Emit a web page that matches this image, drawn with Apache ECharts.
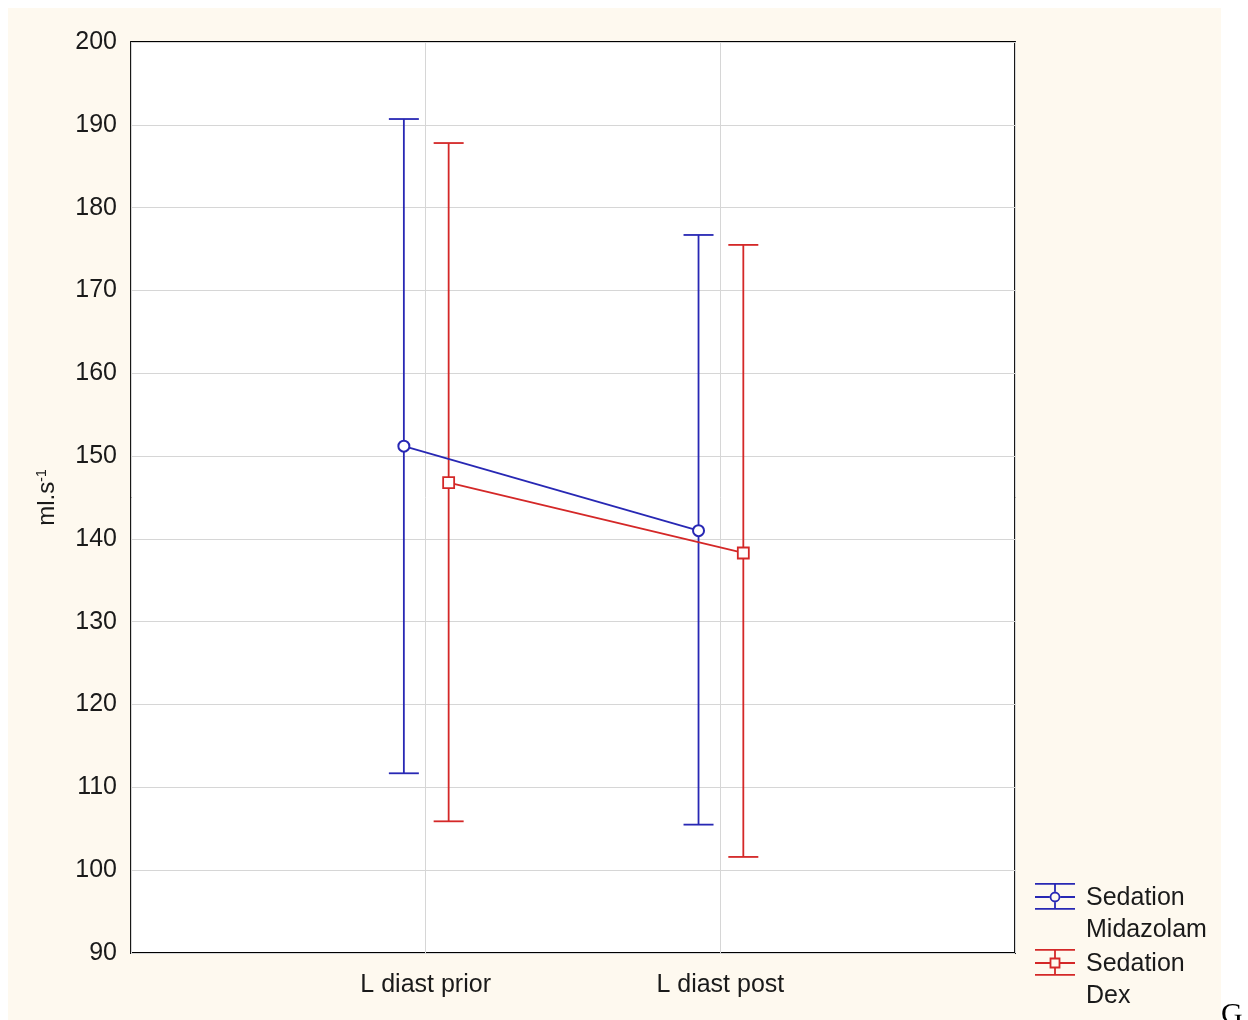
<!DOCTYPE html>
<html>
<head>
<meta charset="utf-8">
<script src="https://cdn.jsdelivr.net/npm/echarts@6/dist/echarts.min.js"></script>
<style>
html,body{margin:0;padding:0;background:#ffffff;}
#bg{position:absolute;left:8px;top:8px;width:1213px;height:1012px;background:#fef9ef;}
#chart{position:absolute;left:0;top:0;width:1248px;height:1020px;}
</style>
</head>
<body>
<div id="bg"></div>
<div id="chart"></div>
<script>
// ---- data ----
var categories = ['L diast prior', 'L diast post'];
var seriesNames = ['Sedation\nMidazolam', 'Sedation\nDex'];
var midMean = [151.2, 141.0];
var midLow  = [111.7, 105.5];
var midHigh = [190.7, 176.7];
var dexMean = [146.8, 138.3];
var dexLow  = [105.9, 101.6];
var dexHigh = [187.8, 175.5];
var yTicks = [90, 100, 110, 120, 130, 140, 150, 160, 170, 180, 190, 200];

// ---- style ----
var BLUE = '#2828b4';
var RED = '#d42828';
var TXT = '#1a1a1a';
var FONT = "'Liberation Sans', Arial, sans-serif";
var OFF_BLUE = -0.074, OFF_RED = 0.078;

function pts(mean, off) {
  return mean.map(function (v, i) { return [i + 1 + off, v]; });
}
function bars(low, high, off) {
  return low.map(function (v, i) { return [i + 1 + off, v, high[i]]; });
}
function errRender(color) {
  return function (params, api) {
    var x = api.value(0);
    var lo = api.coord([x, api.value(1)]);
    var hi = api.coord([x, api.value(2)]);
    var hw = 15;
    var st = { stroke: color, lineWidth: 1.8 };
    return {
      type: 'group',
      children: [
        { type: 'line', shape: { x1: lo[0], y1: lo[1], x2: hi[0], y2: hi[1] }, style: st },
        { type: 'line', shape: { x1: lo[0] - hw, y1: lo[1], x2: lo[0] + hw, y2: lo[1] }, style: st },
        { type: 'line', shape: { x1: hi[0] - hw, y1: hi[1], x2: hi[0] + hw, y2: hi[1] }, style: st }
      ]
    };
  };
}

// legend icon paths (40 x 64 box; glyph in upper part)
var frame = 'M0 0 L0.001 0 Z M40 64 L40.001 64 Z ';
var common = 'M0 1 L40 1 L40 2.8 L0 2.8 Z M0 26 L40 26 L40 27.8 L0 27.8 Z ' +
             'M19.1 2.8 L20.9 2.8 L20.9 9.6 L19.1 9.6 Z M19.1 20.4 L20.9 20.4 L20.9 26 L19.1 26 Z ' +
             'M0 14.1 L14.6 14.1 L14.6 15.9 L0 15.9 Z M25.4 14.1 L40 14.1 L40 15.9 L25.4 15.9 Z ';
var circleIcon = 'path://' + frame + common +
  'M14.6 15 A5.4 5.4 0 1 1 25.4 15 A5.4 5.4 0 1 1 14.6 15 Z M16.4 15 A3.6 3.6 0 1 0 23.6 15 A3.6 3.6 0 1 0 16.4 15 Z';
var squareIcon = 'path://' + frame + common +
  'M14.6 9.6 L25.4 9.6 L25.4 20.4 L14.6 20.4 Z M16.4 11.4 L16.4 18.6 L23.6 18.6 L23.6 11.4 Z';

var chart = echarts.init(document.getElementById('chart'), null, { renderer: 'canvas' });
chart.setOption({
  backgroundColor: 'transparent',
  animation: false,
  textStyle: { fontFamily: FONT },
  grid: {
    left: 131, right: 233, top: 42, bottom: 67,
    show: true, backgroundColor: '#ffffff', borderColor: '#000000', borderWidth: 1.8
  },
  xAxis: {
    type: 'value', min: 0, max: categories.length + 1, interval: 1,
    axisLine: { show: false },
    axisTick: { show: false },
    splitLine: { show: true, lineStyle: { color: '#d6d6d6', width: 1 } },
    axisLabel: {
      margin: 20, fontSize: 25, color: TXT, fontFamily: FONT,
      formatter: function (v) { return categories[v - 1] || ''; }
    }
  },
  yAxis: {
    type: 'value', min: yTicks[0], max: yTicks[yTicks.length - 1], interval: 10,
    axisLine: { show: false },
    axisTick: { show: false },
    splitLine: { show: true, lineStyle: { color: '#d6d6d6', width: 1 } },
    axisLabel: { margin: 14, fontSize: 25, color: TXT, fontFamily: FONT },
    name: 'ml.s{sup|-1}',
    nameLocation: 'middle',
    nameGap: 72,
    nameRotate: 90,
    nameTextStyle: {
      fontSize: 24, color: TXT, fontFamily: FONT,
      rich: { sup: { fontSize: 14, verticalAlign: 'top', color: TXT, fontFamily: FONT, padding: [0, 0, 8, 0] } }
    }
  },
  legend: {
    orient: 'vertical', left: 1035, top: 882, padding: 0,
    itemWidth: 40, itemHeight: 64, itemGap: 2,
    textStyle: { fontSize: 25, lineHeight: 32, color: TXT, fontFamily: FONT, padding: [0, 0, 0, 6] },
    itemStyle: { borderWidth: 0 },
    data: [
      { name: seriesNames[0], icon: circleIcon },
      { name: seriesNames[1], icon: squareIcon }
    ]
  },
  graphic: [{
    type: 'text', left: 1221, top: 1000,
    style: { text: 'G', font: '30px "Liberation Serif", serif', fill: '#000000' }
  }],
  series: [
    {
      name: seriesNames[0], type: 'custom', renderItem: errRender(BLUE),
      data: bars(midLow, midHigh, OFF_BLUE), itemStyle: { color: BLUE }, z: 2
    },
    {
      name: seriesNames[1], type: 'custom', renderItem: errRender(RED),
      data: bars(dexLow, dexHigh, OFF_RED), itemStyle: { color: RED }, z: 2
    },
    {
      name: seriesNames[0], type: 'line', data: pts(midMean, OFF_BLUE),
      symbol: 'circle', symbolSize: 11,
      itemStyle: { color: '#ffffff', borderColor: BLUE, borderWidth: 2 },
      lineStyle: { color: BLUE, width: 1.8 }, z: 3
    },
    {
      name: seriesNames[1], type: 'line', data: pts(dexMean, OFF_RED),
      symbol: 'rect', symbolSize: 11,
      itemStyle: { color: '#ffffff', borderColor: RED, borderWidth: 1.8 },
      lineStyle: { color: RED, width: 1.8 }, z: 3
    }
  ]
});
</script>
</body>
</html>
